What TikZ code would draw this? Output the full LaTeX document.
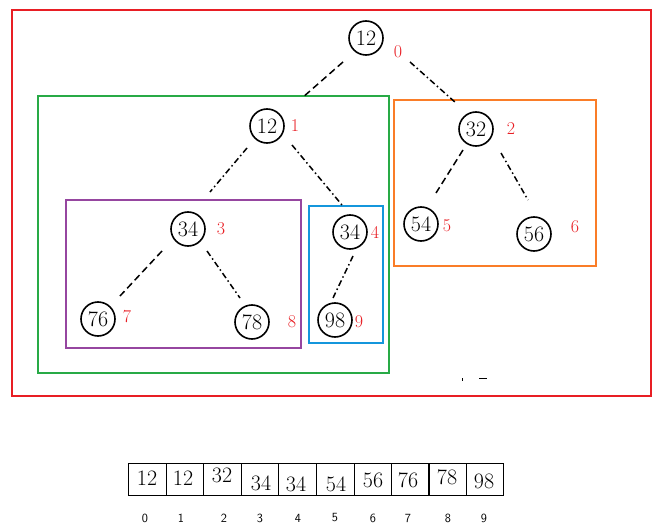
\documentclass[tikz,border=0pt]{standalone}
\usetikzlibrary{calc}
\definecolor{cred}{RGB}{232,30,36}
\definecolor{cgreen}{RGB}{40,170,70}
\definecolor{corange}{RGB}{250,125,40}
\definecolor{cpurple}{RGB}{150,70,160}
\definecolor{cblue}{RGB}{20,150,220}
\tikzset{
  hnode/.style={circle,draw,line width=1.6pt,minimum size=34pt,inner sep=0pt,font=\fontsize{22}{24}\selectfont},
  idx/.style={text=cred,font=\fontsize{18}{20}\selectfont,inner sep=0pt},
  edge/.style={line width=1.5pt,dash pattern=on 6pt off 3pt on 1.5pt off 3pt},
  edgeb/.style={line width=1.5pt,dash pattern=on 7pt off 4pt},
  frame/.style={line width=2pt},
  cell/.style={draw,line width=1.4pt,minimum width=37.5pt,minimum height=32pt,inner sep=0pt,anchor=north west},
  celltxt/.style={font=\fontsize{22}{24}\selectfont,inner sep=0pt},
  aidx/.style={font=\sffamily\fontsize{12.5}{14}\selectfont,inner sep=0pt}
}
\begin{document}
\begin{tikzpicture}[x=1pt,y=-1pt]
\useasboundingbox (0,0) rectangle (666,532);
% frames
\draw[frame,cred] (12,10) rectangle (651,396);
\draw[frame,cgreen] (38,96) rectangle (389,373);
\draw[frame,corange] (394,100) rectangle (596,266);
\draw[frame,cpurple] (66,200) rectangle (301,348);
\draw[frame,cblue] (309,206) rectangle (383,343);
% nodes
\node[hnode] (n0) at (366,38) {12};
\node[hnode] (n1) at (267,126) {12};
\node[hnode] (n2) at (476,129) {32};
\node[hnode] (n3) at (188,229) {34};
\node[hnode] (n4) at (350,232) {34};
\node[hnode] (n5) at (421,224) {54};
\node[hnode] (n6) at (534,234) {56};
\node[hnode] (n7) at (98,319) {76};
\node[hnode] (n8) at (252,322) {78};
\node[hnode] (n9) at (335,320) {98};
% index labels
\node[idx] (l0) at (398,52) {0};
\node[idx] (l1) at (295,126) {1};
\node[idx] (l2) at (511,129) {2};
\node[idx] (l3) at (221,229) {3};
\node[idx] (l4) at (375,232) {4};
\node[idx] (l5) at (447,226) {5};
\node[idx] (l6) at (575,227) {6};
\node[idx] (l7) at (127,317) {7};
\node[idx] (l8) at (292,322) {8};
\node[idx] (l9) at (359,322) {9};
% edges (gapped from the circles, as in the reference)
\coordinate (e01a) at (343,62);  \coordinate (e01b) at (302,98);
\coordinate (e02a) at (410,62);  \coordinate (e02b) at (456,103);
\coordinate (e13a) at (247,148); \coordinate (e13b) at (210,192);
\coordinate (e14a) at (292,145); \coordinate (e14b) at (342,205);
\coordinate (e37a) at (162,251); \coordinate (e37b) at (120,296);
\coordinate (e38a) at (207,251); \coordinate (e38b) at (240,298);
\coordinate (e49a) at (353,256); \coordinate (e49b) at (333,298);
\coordinate (e25a) at (463,150); \coordinate (e25b) at (436,193);
\coordinate (e26a) at (501,153); \coordinate (e26b) at (528,200);
\draw[edgeb] (e01a) -- (e01b);
\draw[edge] (e02a) -- (e02b);
\draw[edge] (e13a) -- (e13b);
\draw[edge] (e14a) -- (e14b);
\draw[edgeb] (e37a) -- (e37b);
\draw[edge] (e38a) -- (e38b);
\draw[edge] (e49a) -- (e49b);
\draw[edgeb] (e25a) -- (e25b);
\draw[edge] (e26a) -- (e26b);
% small marks
\draw[line width=1pt] (462,378) -- (462,381);
\draw[line width=1pt] (479,378) -- (487,378);
% array
\foreach \i/\x in {0/128,1/165.5,2/203,3/240.5,4/278,5/316,6/353.5,7/391,8/428,9/465.5}{
  \node[cell] (c\i) at (\x,463) {};
}
\node[celltxt] (t0) at (147,478) {12};
\node[celltxt] (t1) at (183,478) {12};
\node[celltxt] (t2) at (222,475) {32};
\node[celltxt] (t3) at (261,483) {34};
\node[celltxt] (t4) at (296,484) {34};
\node[celltxt] (t5) at (336,484) {54};
\node[celltxt] (t6) at (373,480) {56};
\node[celltxt] (t7) at (408,480) {76};
\node[celltxt] (t8) at (447,477) {78};
\node[celltxt] (t9) at (484,481) {98};
\foreach \i/\x in {0/145,1/181,2/224,3/260,4/298,5/335,6/373,7/408,8/448,9/484}{
  \node[aidx] (a\i) at (\x,518) {\i};
}
\end{tikzpicture}
\end{document}
